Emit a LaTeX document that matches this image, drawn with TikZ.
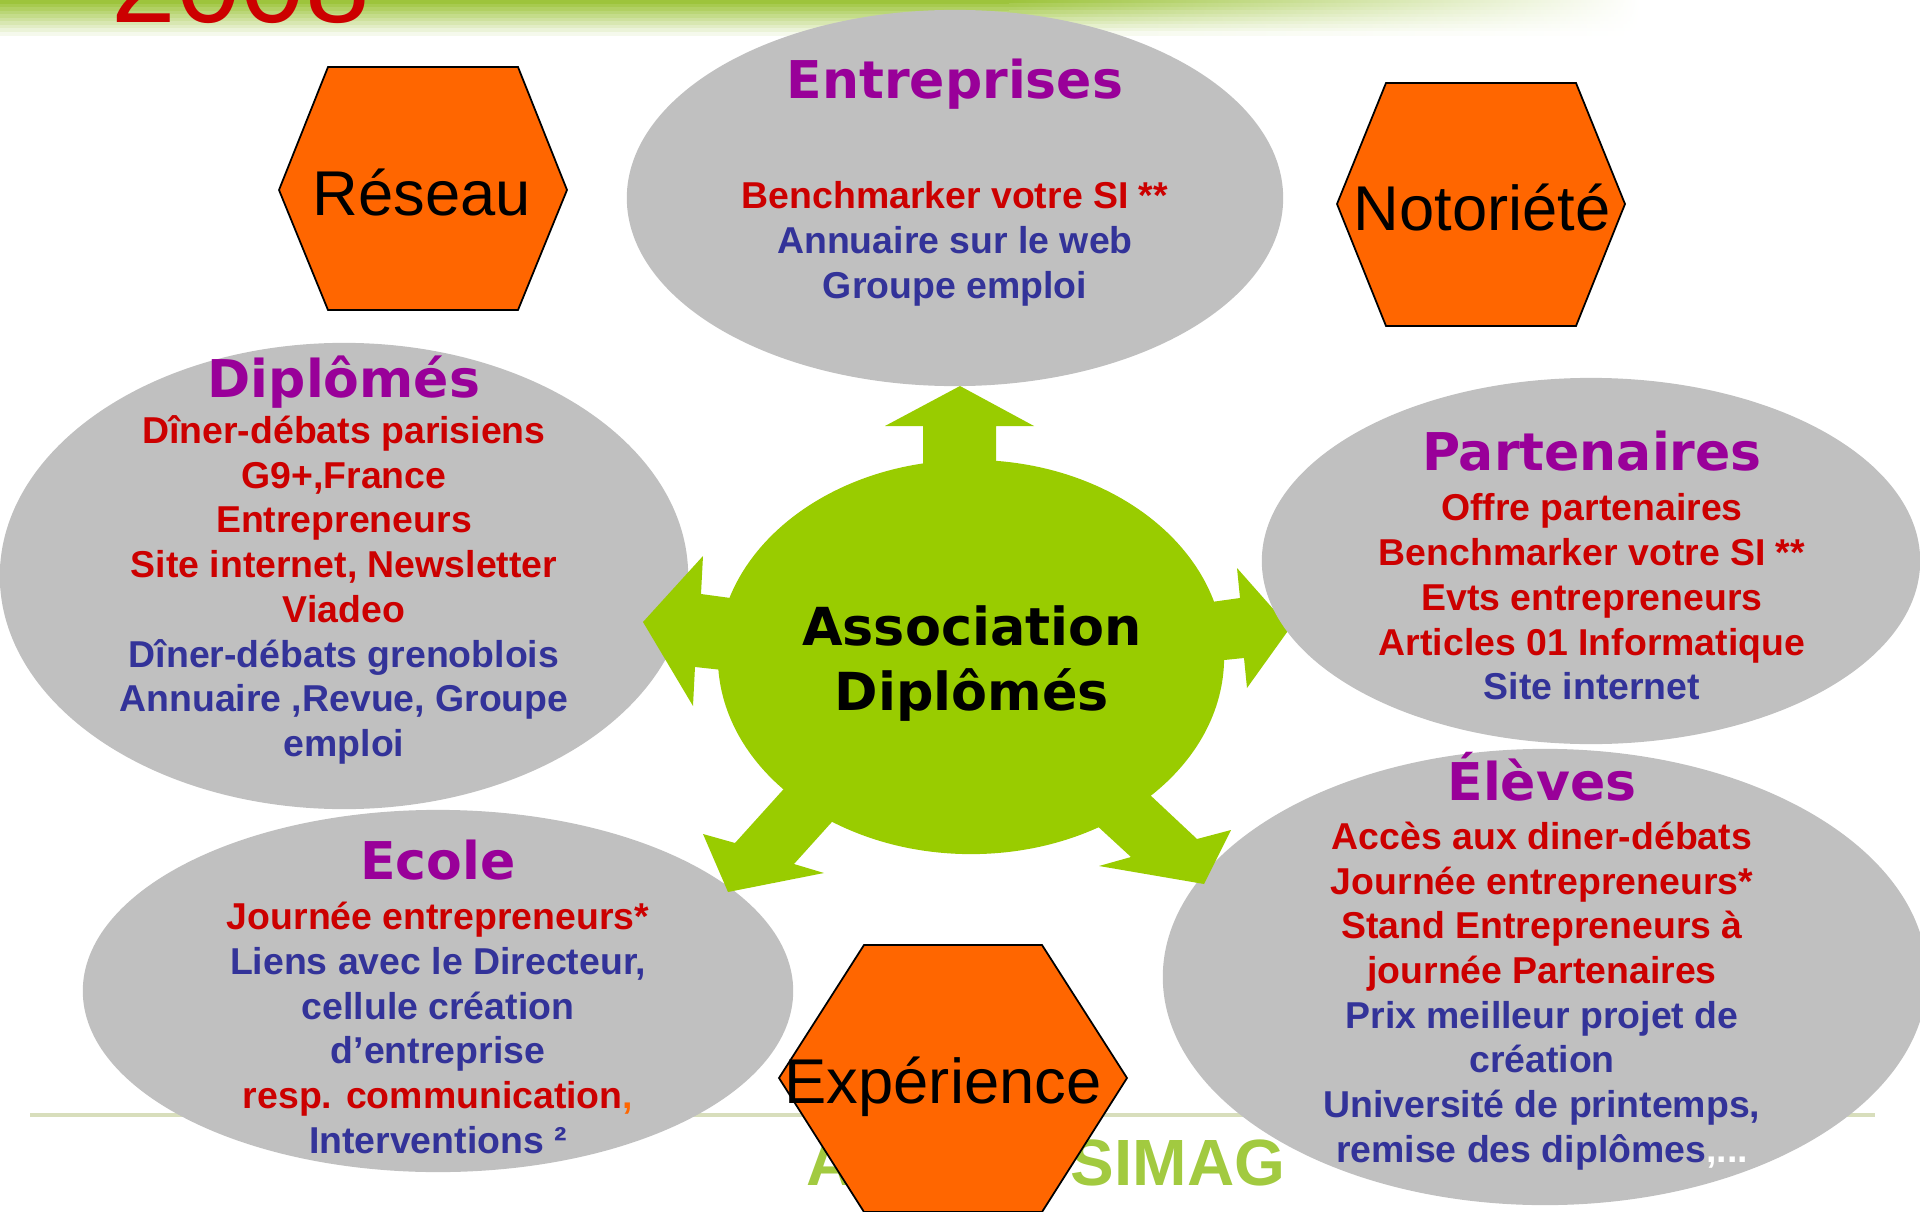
\documentclass[tikz,border=0pt]{standalone}
\usepackage{fontspec}
\setmainfont{Liberation Sans}
\newfontfamily\verdanafont{DejaVu Sans}
\usetikzlibrary{shapes.geometric}

\definecolor{ellgray}{HTML}{C0C0C0}
\definecolor{titlepurple}{HTML}{990099}
\definecolor{txtred}{HTML}{CC0000}
\definecolor{txtblue}{HTML}{333399}
\definecolor{assogreen}{HTML}{99CC00}
\definecolor{hexorange}{HTML}{FF6600}
\definecolor{grass}{HTML}{9DC43C}
\definecolor{logogreen}{HTML}{A2CA40}
\definecolor{rulecol}{HTML}{D8DEBC}

\begin{document}
\begin{tikzpicture}[x=0.01cm,y=-0.01cm]
        \tikzset{bubble/.style={draw=none, fill=ellgray, ellipse, inner sep=0pt},
        title/.style={anchor=base, text=titlepurple, font=\verdanafont\bfseries\fontsize{14.8}{17}\selectfont},
        body/.style={align=center, text=txtred, font=\bfseries\fontsize{10.64}{12.72}\selectfont},
        hexa/.style={draw=black, line width=0.5pt, fill=hexorange},
        hexlabel/.style={font=\fontsize{18}{21}\selectfont},
        flow/.style={fill=assogreen, draw=none},
        logo/.style={anchor=base west, inner sep=0pt, text=logogreen, font=\bfseries\fontsize{18.6}{20}\selectfont},
        }
        \useasboundingbox (0,0) rectangle (1920,1212);
        \clip (0,0) rectangle (1920,1212);

%% background band
        \foreach \i in {0,...,9} {
            \pgfmathsetmacro\mix{100-10*\i}
            \colorlet{bandcol}{grass!\mix!white}
            \fill[bandcol] (0,3.5*\i) rectangle (1010,3.5*\i+4);
            \shade[left color=bandcol, right color=white] (1009,3.5*\i) rectangle (1640,3.5*\i+4);
        }
        \node[anchor=base west, inner sep=0pt, text=txtred, font=\fontsize{33}{36}\selectfont] (year) at (111,22) {2008};
        \draw[rulecol, line width=1.2pt] (30,1115) -- (1875,1115);
        \node[logo] (logoa) at (806,1185) {A};
        \node[logo] (logob) at (1070,1185) {SIMAG};

%% bubbles
        \node[bubble, minimum width=6.56cm, minimum height=3.76cm] (ent) at (955,198) {};
        \node[bubble, minimum width=6.88cm, minimum height=4.66cm] (dip) at (344,576) {};
        \node[bubble, minimum width=7.10cm, minimum height=3.62cm] (eco) at (438,991) {};
        \node[bubble, minimum width=7.64cm, minimum height=4.56cm] (elv) at (1545,977) {};

%% centre and arrows
        \node[flow, ellipse, inner sep=0pt, minimum width=5.06cm, minimum height=3.94cm] (asso) at (971,657) {};
        \fill[flow] (923,480) -- (923,426) -- (885,426) -- (960,386) -- (1034,426) -- (996,426) -- (996,480) -- cycle;
        \fill[flow] (760,602) -- (701,594) -- (703,556) -- (643,622) -- (693,706) -- (695,667) -- (750,673) -- cycle;
        \fill[flow] (1190,605) -- (1240,598) -- (1237,568) -- (1290,628) -- (1247,688) -- (1244,658) -- (1195,663) -- cycle;
        \fill[flow] (800,771) -- (735,843) -- (703,834) -- (728,892) -- (824,873) -- (794,864) -- (849,803) -- cycle;
        \fill[flow] (1133,779) -- (1197,839) -- (1231,830) -- (1204,884) -- (1099,866) -- (1131,857) -- (1081,811) -- cycle;

        \node[bubble, minimum width=6.58cm, minimum height=3.66cm] (par) at (1591,561) {};

%% hexagons
        \draw[hexa] (279,190) -- (328,67) -- (518,67) -- (567,190) -- (518,310) -- (328,310) -- cycle;
        \draw[hexa] (1337,204) -- (1386,83) -- (1576,83) -- (1625,204) -- (1576,326) -- (1386,326) -- cycle;
        \draw[hexa] (779,1078) -- (864,945) -- (1042,945) -- (1127,1078) -- (1042,1212) -- (864,1212) -- cycle;
        \node[hexlabel] (reseau) at (422,193) {Réseau};
        \node[hexlabel] (noto) at (1482,208) {Notoriété};
        \node[hexlabel] (expe) at (943,1087) {Expérience};

%% texts
        \node[font=\verdanafont\bfseries\fontsize{14.9}{18.5}\selectfont, align=center] (assotext) at (972,664) {Association\\Diplômés};

        \node[title] (enttitle) at (955,98) {Entreprises};
        \node[body] (entbody) at (955,244) {Benchmarker votre SI **\\
            \textcolor{txtblue}{Annuaire sur le web}\\
            \textcolor{txtblue}{Groupe emploi}};

        \node[title] (diptitle) at (344,397) {Diplômés};
        \node[body] (dipbody) at (344,590) {Dîner-débats parisiens\\ G9+,France\\ Entrepreneurs\\
            Site internet, Newsletter\\ Viadeo\\
            \textcolor{txtblue}{Dîner-débats grenoblois}\\
            \textcolor{txtblue}{Annuaire ,Revue, Groupe}\\
            \textcolor{txtblue}{emploi}};

        \node[title] (partitle) at (1592,470) {Partenaires};
        \node[body] (parbody) at (1592,597) {Offre partenaires\\ Benchmarker votre SI **\\
            Evts entrepreneurs\\ Articles 01 Informatique\\
            \textcolor{txtblue}{Site internet}};

        \node[title] (elvtitle) at (1542,800) {Élèves};
        \node[body] (elvbody) at (1542,996) {Accès aux diner-débats\\ Journée entrepreneurs*\\
            Stand Entrepreneurs à\\ journée Partenaires\\
            \textcolor{txtblue}{Prix meilleur projet de}\\
            \textcolor{txtblue}{création}\\
            \textcolor{txtblue}{Université de printemps,}\\
            \textcolor{txtblue}{remise des diplômes}\textcolor{white}{,...}};

        \node[title] (ecotitle) at (438,879) {Ecole};
        \node[body] (ecobody) at (438,1028) {Journée entrepreneurs*\\
            \textcolor{txtblue}{Liens avec le Directeur,}\\
            \textcolor{txtblue}{cellule création}\\
            \textcolor{txtblue}{d’entreprise}\\
            resp. communication\textcolor{hexorange}{,}\\
            \textcolor{txtblue}{Interventions ²}};
\end{tikzpicture}
\end{document}
